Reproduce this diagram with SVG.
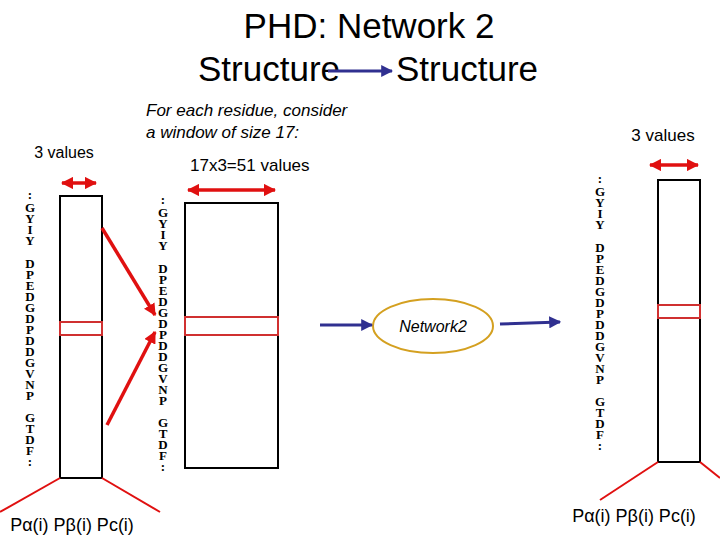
<svg xmlns="http://www.w3.org/2000/svg" width="720" height="540" viewBox="0 0 720 540">
<defs>
<style>
.t{font-family:"Liberation Sans",Arial,sans-serif;fill:#000}
.aa{font-family:"Liberation Serif","Times New Roman",serif;font-weight:bold;font-size:13px;text-anchor:middle}
.box{fill:#fff;stroke:#000;stroke-width:2}
.win{fill:none;stroke:#d03030;stroke-width:2}
.red{stroke:#e01010;stroke-width:3.5;fill:none}
.blue{stroke:#303090;stroke-width:3;fill:none}
</style>
<marker id="ra" viewBox="0 0 10 10" refX="9" refY="5" markerWidth="3.5" markerHeight="3.5" orient="auto-start-reverse"><path d="M0,0L10,5L0,10z" fill="#e01010"/></marker>
<marker id="ba" viewBox="0 0 10 10" refX="9" refY="5" markerWidth="4" markerHeight="4" orient="auto"><path d="M0,0L10,5L0,10z" fill="#303090"/></marker>
<g id="col">
<text class="aa" y="0">:</text><text class="aa" y="13">G</text><text class="aa" y="24">Y</text><text class="aa" y="35">I</text><text class="aa" y="46">Y</text>
<text class="aa" y="69">D</text><text class="aa" y="80">P</text><text class="aa" y="91">E</text><text class="aa" y="102">D</text><text class="aa" y="113">G</text><text class="aa" y="124">D</text><text class="aa" y="135">P</text><text class="aa" y="146">D</text><text class="aa" y="157">D</text><text class="aa" y="168">G</text><text class="aa" y="179">V</text><text class="aa" y="190">N</text><text class="aa" y="201">P</text>
<text class="aa" y="223">G</text><text class="aa" y="234">T</text><text class="aa" y="245">D</text><text class="aa" y="256">F</text><text class="aa" y="267">:</text>
</g>
</defs>
<g id="title">
<text class="t" x="369" y="38" font-size="35" text-anchor="middle">PHD: Network 2</text>
<text class="t" x="198" y="81" font-size="35">Structure</text>
<text class="t" x="396" y="81" font-size="35">Structure</text>
</g>
<g id="labels">
<text class="t" x="64" y="158" font-size="16" text-anchor="middle">3 values</text>
<text class="t" x="146" y="116" font-size="17" font-style="italic">For each residue, consider</text>
<text class="t" x="146" y="138" font-size="17" font-style="italic">a window of size 17:</text>
<text class="t" x="190" y="171" font-size="17">17x3=51 values</text>
<text class="t" x="663" y="141" font-size="17" text-anchor="middle">3 values</text>
<text class="t" x="72" y="531" font-size="18" text-anchor="middle">Pα(i) Pβ(i) Pc(i)</text>
<text class="t" x="634" y="522" font-size="18" text-anchor="middle">Pα(i) Pβ(i) Pc(i)</text>
</g>
<g id="input">
<use href="#col" x="30" y="199"/>
<rect class="box" x="60" y="196" width="42" height="282"/>
<rect class="win" x="60" y="322" width="42" height="13"/>
</g>
<g id="window">
<use href="#col" x="163" y="204"/>
<rect class="box" x="185" y="203" width="93" height="265"/>
<rect class="win" x="185" y="317" width="93" height="18"/>
</g>
<g id="network2">
<ellipse cx="433" cy="326" rx="60" ry="27" fill="none" stroke="#d4a020" stroke-width="2"/>
<text class="t" x="433" y="332" font-size="16" font-style="italic" text-anchor="middle">Network2</text>
</g>
<g id="output">
<use href="#col" x="600" y="183"/>
<rect class="box" x="658" y="180" width="42" height="282"/>
<rect class="win" x="658" y="305" width="42" height="13"/>
</g>
<g id="connectors">
<line class="blue" x1="328" y1="71" x2="392" y2="71" marker-end="url(#ba)"/>
<line class="red" x1="62" y1="183" x2="96" y2="183" marker-start="url(#ra)" marker-end="url(#ra)"/>
<line class="red" x1="188" y1="190" x2="275" y2="190" marker-start="url(#ra)" marker-end="url(#ra)"/>
<line class="red" x1="650" y1="165" x2="698" y2="165" marker-start="url(#ra)" marker-end="url(#ra)"/>
<line class="red" x1="102" y1="228" x2="155" y2="315" marker-end="url(#ra)"/>
<line class="red" x1="107" y1="425" x2="155" y2="332" marker-end="url(#ra)"/>
<line class="blue" x1="320" y1="325" x2="372" y2="325" marker-end="url(#ba)"/>
<line class="blue" x1="500" y1="324" x2="560" y2="322" marker-end="url(#ba)"/>
<line stroke="#e01010" stroke-width="2" x1="60" y1="478" x2="0" y2="512"/>
<line stroke="#e01010" stroke-width="2" x1="102" y1="478" x2="160" y2="512"/>
<line stroke="#e01010" stroke-width="2" x1="658" y1="462" x2="600" y2="500"/>
<line stroke="#e01010" stroke-width="2" x1="700" y1="462" x2="720" y2="478"/>
</g>
</svg>
